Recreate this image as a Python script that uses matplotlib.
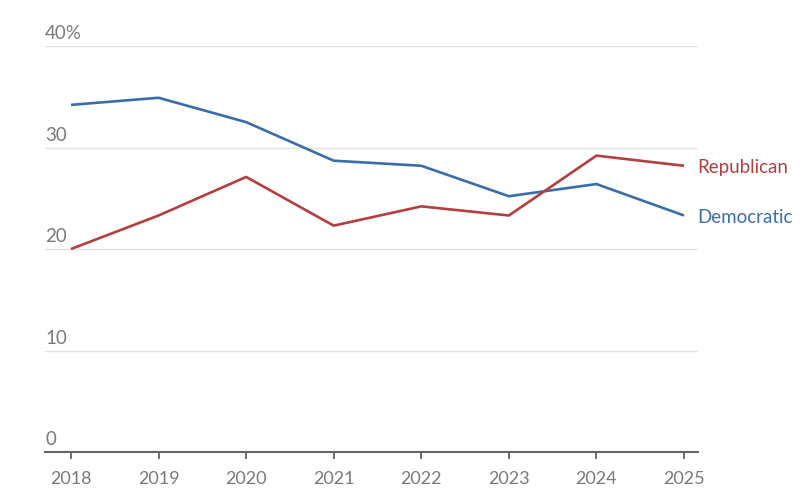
import matplotlib
matplotlib.use("Agg")
import matplotlib.pyplot as plt

years = [2018, 2019, 2020, 2021, 2022, 2023, 2024, 2025]
democratic = [34.2, 34.9, 32.5, 28.7, 28.2, 25.2, 26.4, 23.3]
republican = [20.0, 23.3, 27.1, 22.3, 24.2, 23.3, 29.2, 28.2]
y_ticks = [0, 10, 20, 30, 40]
y_labels = ["0", "10", "20", "30", "40%"]

blue = "#3a6ea8"
red = "#b33f3f"
grey = "#7a7a7a"

plt.rcParams['font.family'] = ['Lato', 'DejaVu Sans']

fig = plt.figure(figsize=(8, 5.01), dpi=100)
ax = fig.add_axes([45/800, 1-452/501, (698-45)/800, (452-46)/501])
ax.set_xlim(2018 - 26/87.57, 2025 + 14/87.57)
ax.set_ylim(0, 40)

for t in y_ticks[1:]:
    ax.axhline(t, color="#e2e2e2", lw=1.0, zorder=1)
for t, lab in zip(y_ticks, y_labels):
    ax.text(0.0, t + 0.35, lab, transform=ax.get_yaxis_transform(), ha="left", va="bottom",
            fontsize=13.5, color=grey)

ax.plot(years, democratic, color=blue, lw=1.9, zorder=3, solid_capstyle="butt")
ax.plot(years, republican, color=red, lw=1.9, zorder=3, solid_capstyle="butt")

ax.text(years[-1] + 0.15, republican[-1] - 0.15, "Republican", color=red, fontsize=13.5, va="center", ha="left")
ax.text(years[-1] + 0.15, democratic[-1] - 0.15, "Democratic", color=blue, fontsize=13.5, va="center", ha="left")

for s in ["top", "right", "left"]:
    ax.spines[s].set_visible(False)
ax.spines["bottom"].set_color("#666666")
ax.spines["bottom"].set_linewidth(1.5)
ax.set_yticks([])
ax.set_xticks(years)
ax.set_xticklabels([str(y) for y in years])
ax.tick_params(axis="x", length=5, width=1.2, color="#555555", labelsize=13, labelcolor=grey, pad=9)

fig.savefig("out.png", dpi=100)
